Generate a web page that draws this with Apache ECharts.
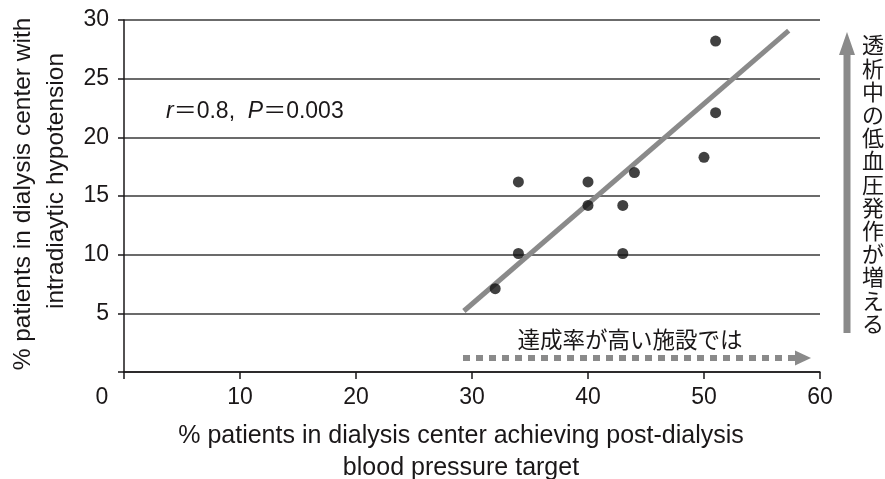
<!DOCTYPE html>
<html><head><meta charset="utf-8">
<script src="https://cdn.jsdelivr.net/npm/echarts@6/dist/echarts.min.js"></script>
<style>html,body{margin:0;padding:0;background:#fff}#c{width:885px;height:479px}</style>
</head><body><div id="c"></div>
<script>
// ---- data ----
const centerAchieving   = [32, 34, 34, 40, 40, 43, 43, 44, 50, 51, 51];
const centerHypotension = [7.1, 10.1, 16.2, 14.2, 16.2, 10.1, 14.2, 17.0, 18.3, 22.1, 28.2];
const fitX = [29.3, 57.3];
const fitY = [5.2, 29.1];
const xTicks = [0, 10, 20, 30, 40, 50, 60];
const yTicks = [0, 5, 10, 15, 20, 25, 30];
const xTitle = ['% patients in dialysis center achieving post-dialysis', 'blood pressure target'];
const yTitle = ['% patients in dialysis center with', 'intradiaytic hypotension'];
const statText = ['r', '＝0.8,  ', 'P', '＝0.003'];
const noteX = '達成率が高い施設では';
const noteY = '透析中の低血圧発作が増える';

const LATIN = 'Liberation Sans, Arial, Helvetica, sans-serif';
const CJK = '"Noto Sans CJK JP", "Noto Sans CJK SC", sans-serif';
const INK = '#1a1718';
const GRAY = '#8a8a8a';

const scatterData = centerAchieving.map((x, i) => [x, centerHypotension[i]]);
const fitData = fitX.map((x, i) => [x, fitY[i]]);

const chart = echarts.init(document.getElementById('c'), null, {renderer: 'canvas'});
chart.setOption({
  animation: false,
  backgroundColor: '#fff',
  grid: {left: 124, right: 65, top: 20, bottom: 107, containLabel: false},
  xAxis: {
    type: 'value', min: xTicks[0], max: xTicks[xTicks.length - 1], interval: 10,
    axisLine: {show: true, onZero: false, lineStyle: {color: INK, width: 1.5}},
    axisTick: {show: true, length: 7, lineStyle: {color: INK, width: 1.5}},
    splitLine: {show: false},
    axisLabel: {
      color: INK, fontSize: 23, fontFamily: LATIN, margin: 14,
      formatter: v => v === 0 ? '{z|0}' : String(v),
      rich: {z: {padding: [0, 44, 0, 0], fontSize: 23, fontFamily: LATIN, color: INK}}
    }
  },
  yAxis: {
    type: 'value', min: yTicks[0], max: yTicks[yTicks.length - 1], interval: 5,
    axisLine: {show: true, onZero: false, lineStyle: {color: INK, width: 1.5}},
    axisTick: {show: true, length: 6, lineStyle: {color: INK, width: 1.5}},
    splitLine: {show: true, lineStyle: {color: '#3a3a3a', width: 1.5}},
    axisLabel: {
      color: INK, fontSize: 23, fontFamily: LATIN, margin: 15,
      formatter: v => v === 0 ? '' : String(v)
    }
  },
  series: [
    {
      type: 'line', data: fitData, symbol: 'none', z: 2,
      lineStyle: {color: GRAY, width: 5}
    },
    {
      type: 'scatter', data: scatterData, symbol: 'circle', symbolSize: 11, z: 3,
      itemStyle: {color: '#111'}
    }
  ],
  graphic: [
    {type: 'text', x: 166, y: 112, style: {
      text: '{i|' + statText[0] + '}{n|' + statText[1] + '}{i|' + statText[2] + '}{n|' + statText[3] + '}',
      textAlign: 'left', textVerticalAlign: 'middle',
      rich: {
        i: {fontStyle: 'italic', fontSize: 23, fontFamily: LATIN, fill: INK},
        n: {fontSize: 23, fontFamily: LATIN + ', ' + CJK, fill: INK}
      }
    }},
    {type: 'text', x: 461, y: 436, style: {text: xTitle[0], fontSize: 25, fontFamily: LATIN, fill: INK, textAlign: 'center', textVerticalAlign: 'middle'}},
    {type: 'text', x: 461, y: 468, style: {text: xTitle[1], fontSize: 25, fontFamily: LATIN, fill: INK, textAlign: 'center', textVerticalAlign: 'middle'}},
    {type: 'text', x: 23, y: 194, rotation: Math.PI / 2, style: {text: yTitle[0], fontSize: 24.5, fontFamily: LATIN, fill: INK, textAlign: 'center', textVerticalAlign: 'middle'}},
    {type: 'text', x: 56, y: 181, rotation: Math.PI / 2, style: {text: yTitle[1], fontSize: 24.5, fontFamily: LATIN, fill: INK, textAlign: 'center', textVerticalAlign: 'middle'}},
    // horizontal note + dotted arrow
    {type: 'text', x: 630, y: 339, style: {text: noteX, fontSize: 22.5, fontFamily: CJK, fill: INK, textAlign: 'center', textVerticalAlign: 'middle'}},
    {type: 'line', shape: {x1: 463, y1: 358, x2: 795, y2: 358}, style: {stroke: GRAY, lineWidth: 6, lineDash: [7, 6]}},
    {type: 'polygon', shape: {points: [[795, 350.5], [811, 358], [795, 365.5]]}, style: {fill: GRAY}},
    // vertical note + arrow
    {type: 'text', x: 873, y: 33.5, style: {text: noteY.split('').join('\n'), fontSize: 22, lineHeight: 23.2, fontFamily: CJK, fill: INK, textAlign: 'center', textVerticalAlign: 'top'}},
    {type: 'rect', shape: {x: 843.5, y: 54, width: 7, height: 279}, style: {fill: GRAY}},
    {type: 'polygon', shape: {points: [[839, 55], [847, 32], [855, 55]]}, style: {fill: GRAY}}
  ]
});
</script></body></html>
